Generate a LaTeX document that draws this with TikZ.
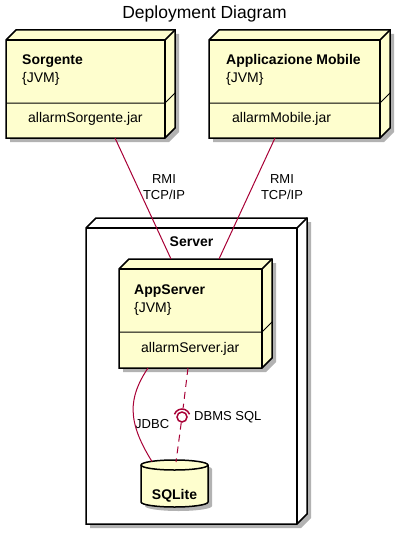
\documentclass[tikz,border=0pt]{standalone}
\usepackage{fontspec}
\setmainfont{Liberation Sans}
\usetikzlibrary{
    positioning, % For relative positioning
    shadows,     % For drop shadows
    backgrounds  % To draw behind nodes
}
\definecolor{nodeyellow}{HTML}{FEFECE}
\definecolor{linkred}{HTML}{A80036}

\begin{document}
\begin{tikzpicture}[
    x=1pt, y=-1pt, % pixel grid, y runs downwards
    % Define styles
    frame/.style={rectangle, inner sep=0pt, outer sep=0pt}, % geometry of a front face
    boxline/.style={draw=black, line width=1.5pt, line join=miter},
    boxshadow/.style={drop shadow={shadow xshift=4pt, shadow yshift=-4pt, opacity=0.3, fill=black}},
    nametext/.style={font=\fontsize{14}{17}\selectfont\bfseries, inner sep=0pt},
    plaintext/.style={font=\fontsize{14}{17}\selectfont, inner sep=0pt},
    linklabel/.style={font=\fontsize{13}{16}\selectfont, inner sep=0pt, align=center},
    link/.style={draw=linkred, line width=1pt},
    dashlink/.style={link, dash pattern=on 7pt off 5pt}
]
\useasboundingbox (0,0) rectangle (411,535);

% ----- FRONT FACES -----
\node (sorg)   [frame, minimum width=159pt, minimum height=98pt]  at (85.5,89) {};
\node (mobile) [frame, minimum width=171pt, minimum height=98pt]  at (294.5,89) {};
\node (server) [frame, minimum width=211pt, minimum height=296pt] at (191.5,376) {};
\node (app)    [frame, minimum width=143pt, minimum height=99pt]  at (190.5,318.5) {};
\node (db)     [frame, minimum width=67pt, minimum height=47pt]   at (174.5,483.5) {};

% ----- TEXTS -----
\node (title) [font=\fontsize{17.5}{20}\selectfont, inner sep=0pt, anchor=base] at (204.5,19) {Deployment Diagram};

\node (sorg_name) [nametext, anchor=base west] at ([shift={(16,24)}]sorg.north west) {Sorgente};
\node (sorg_jvm)  [plaintext, anchor=base west] at ([shift={(0,18)}]sorg_name.base west) {\{JVM\}};
\node (sorg_jar)  [plaintext, anchor=base west] at ([shift={(22,82)}]sorg.north west) {allarmSorgente.jar};

\node (mobile_name) [nametext, anchor=base west] at ([shift={(17,24)}]mobile.north west) {Applicazione Mobile};
\node (mobile_jvm)  [plaintext, anchor=base west] at ([shift={(0,18)}]mobile_name.base west) {\{JVM\}};
\node (mobile_jar)  [plaintext, anchor=base west] at ([shift={(23,82)}]mobile.north west) {allarmMobile.jar};

\node (server_name) [nametext, anchor=base] at ([shift={(0,18)}]server.north) {Server};

\node (app_name) [nametext, anchor=base west] at ([shift={(15,25)}]app.north west) {AppServer};
\node (app_jvm)  [plaintext, anchor=base west] at ([shift={(0,18)}]app_name.base west) {\{JVM\}};
\node (app_jar)  [plaintext, anchor=base west] at ([shift={(22,83)}]app.north west) {allarmServer.jar};

\node (db_name) [nametext, anchor=base] at ([shift={(0,15.5)}]db.center) {SQLite};

% ----- CONNECTOR LABELS -----
\node (rmi_left)   [linklabel] at (164,187.5) {RMI\\TCP/IP};
\node (rmi_right)  [linklabel] at (282,187.5) {RMI\\TCP/IP};
\node (jdbc_label) [linklabel, anchor=base west] at (135,428) {JDBC};
\node (sql_label)  [linklabel, anchor=base west] at (194,420) {DBMS SQL};
\node (sql_iface)  [circle, draw=linkred, line width=1.5pt, fill=white, minimum size=10pt, inner sep=0pt] at (182,417) {};

% Draw connectors
\draw [link] ([shift={(29.5,0)}]sorg.south) -- ([shift={(-19.5,-10)}]app.north);
\draw [link] ([shift={(-19.5,0)}]mobile.south) -- ([shift={(28.5,-10)}]app.north);
\draw [link] ([shift={(-42.5,0)}]app.south) .. controls +(-20,30) and +(-25,-40) .. ([shift={(-22.5,1.5)}]db.north);
\draw [dashlink, shorten >=3pt] ([shift={(-2.5,0)}]app.south) -- (sql_iface);
\draw [dashlink] (sql_iface) -- ([shift={(1.5,2)}]db.north);
\draw [link, line width=1.5pt] ([shift={(200:8)}]sql_iface.center) arc (200:340:8);

% ----- 3D BOXES (using background layer) -----
\begin{pgfonlayer}{background}
    \foreach \n/\col in {sorg/nodeyellow, mobile/nodeyellow, server/white, app/nodeyellow} {
        \filldraw [boxline, boxshadow, fill=\col] (\n.south west) -- (\n.north west)
            -- ([shift={(10,-10)}]\n.north west) -- ([shift={(10,-10)}]\n.north east)
            -- ([shift={(10,-10)}]\n.south east) -- (\n.south east) -- cycle;
        \draw [boxline] (\n.north west) -- (\n.north east) -- (\n.south east);
        \draw [boxline] (\n.north east) -- ([shift={(10,-10)}]\n.north east);
    }
    % compartment lines
    \foreach \n/\d in {sorg/35, mobile/35, app/36} {
        \draw [draw=black, line width=1pt] ([shift={(0,-\d)}]\n.south west) -- ([shift={(0,-\d)}]\n.south east) -- ++(10,-10);
    }
    % database
    \filldraw [boxline, boxshadow, fill=nodeyellow] ([shift={(0,5)}]db.north west) -- ([shift={(0,-5)}]db.south west)
        arc (180:0:33.5 and 5) -- ([shift={(0,5)}]db.north east) arc (0:-180:33.5 and 5) -- cycle;
    \draw [boxline] ([shift={(0,5)}]db.north west) arc (180:0:33.5 and 5);
\end{pgfonlayer}

\end{tikzpicture}
\end{document}
